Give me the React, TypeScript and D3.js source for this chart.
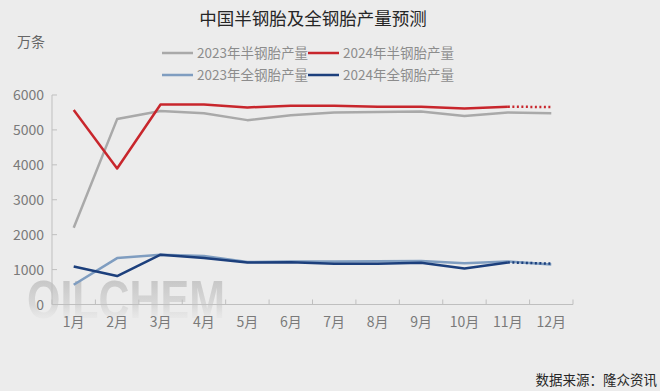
import React from "react";
import * as d3 from "d3";

const months = ["1月", "2月", "3月", "4月", "5月", "6月", "7月", "8月", "9月", "10月", "11月", "12月"];
const yTicks = [0, 1000, 2000, 3000, 4000, 5000, 6000];

const semi2023 = [2200, 5310, 5540, 5475, 5280, 5420, 5500, 5510, 5530, 5400, 5500, 5475];
const semi2024 = [5570, 3895, 5730, 5730, 5645, 5690, 5690, 5665, 5665, 5610, 5665];
const semi2024Forecast = [5665, 5655];
const all2023 = [565, 1330, 1425, 1390, 1215, 1235, 1230, 1240, 1245, 1180, 1235, 1145];
const all2024 = [1090, 815, 1427, 1330, 1200, 1210, 1170, 1170, 1195, 1030, 1205];
const all2024Forecast = [1205, 1170];

const seriesNames = ["2023年半钢胎产量", "2024年半钢胎产量", "2023年全钢胎产量", "2024年全钢胎产量"];
const colors = ["#a9a9a9", "#c8262c", "#7f9dc0", "#1c3f7c"];

const W = 660, H = 391;
const FONT = "'Noto Sans CJK SC', 'Noto Sans', sans-serif";

export default function App() {
  const x = d3.scaleBand<string>().domain(months).range([52, 573]);
  const y = d3.scaleLinear().domain([0, 6000]).range([304.5, 95]);
  const cx = (i: number) => (x(months[i]) as number) + x.bandwidth() / 2;
  const line = d3.line<number>().x((_, i) => cx(i)).y((d) => y(d));
  const lineOff = (off: number) => d3.line<number>().x((_, i) => cx(i + off)).y((d) => y(d));

  const bands = months.map((m) => x(m) as number).concat([573]);

  return (
    <svg width={W} height={H} style={{ position: "absolute", left: 0, top: 0, background: "#ececec" }} fontFamily={FONT}>
      <defs>
        <linearGradient id="wm" x1="0" y1="0" x2="0" y2="1">
          <stop offset="0" stopColor="#b9b9b9" stopOpacity="0.9" />
          <stop offset="0.6" stopColor="#cfcfcf" stopOpacity="0.7" />
          <stop offset="1" stopColor="#ececec" stopOpacity="0" />
        </linearGradient>
      </defs>
      <rect x={0} y={0} width={W} height={H} fill="#ececec" />
      {/* title */}
      <text x={313} y={25} textAnchor="middle" fontSize={17.5} fill="#262626">中国半钢胎及全钢胎产量预测</text>
      {/* unit */}
      <text x={17} y={47} fontSize={14} fill="#666">万条</text>
      {/* legend */}
      {seriesNames.map((n, i) => {
        const lx = i % 2 === 0 ? 162 : 308;
        const ly = i < 2 ? 53 : 75;
        return (
          <g key={n}>
            <line x1={lx} x2={lx + 31} y1={ly} y2={ly} stroke={colors[i]} strokeWidth={2.5} />
            <text x={lx + 35} y={ly + 5} fontSize={13.5} fill="#8c8c8c">{n}</text>
          </g>
        );
      })}
      {/* watermark */}
      <text x={27} y={318} fontSize={54} fontWeight="bold" fontFamily="'Liberation Sans', Arial, sans-serif"
        textLength={198} lengthAdjust="spacingAndGlyphs" fill="url(#wm)">OILCHEM</text>
      {/* axes */}
      <line x1={52} x2={52} y1={y(6000)} y2={y(0)} stroke="#bfbfbf" strokeWidth={1} />
      <line x1={52} x2={573} y1={y(0)} y2={y(0)} stroke="#bfbfbf" strokeWidth={1} />
      {yTicks.map((t) => (
        <g key={t}>
          <line x1={52} x2={57} y1={y(t)} y2={y(t)} stroke="#bfbfbf" />
          <text x={44} y={y(t) + 5} textAnchor="end" fontSize={14} fill="#7a7a7a">{t}</text>
        </g>
      ))}
      {bands.map((b, i) => (
        <line key={i} x1={b} x2={b} y1={y(0)} y2={y(0) - 5} stroke="#bfbfbf" />
      ))}
      {months.map((m, i) => (
        <text key={m} x={cx(i)} y={327} textAnchor="middle" fontSize={14} fill="#7a7a7a">{m}</text>
      ))}
      {/* lines */}
      <path d={line(semi2023) || ""} fill="none" stroke={colors[0]} strokeWidth={2.5} strokeLinejoin="round" />
      <path d={line(all2023) || ""} fill="none" stroke={colors[2]} strokeWidth={2.5} strokeLinejoin="round" />
      <path d={line(semi2024) || ""} fill="none" stroke={colors[1]} strokeWidth={2.5} strokeLinejoin="round" />
      <path d={lineOff(10)(semi2024Forecast) || ""} fill="none" stroke={colors[1]} strokeWidth={2.5} strokeDasharray="2 2.5" />
      <path d={line(all2024) || ""} fill="none" stroke={colors[3]} strokeWidth={2.5} strokeLinejoin="round" />
      <path d={lineOff(10)(all2024Forecast) || ""} fill="none" stroke={colors[3]} strokeWidth={2.5} strokeDasharray="2 2.5" />
      {/* source */}
      <text x={657} y={385} textAnchor="end" fontSize={13.5} fill="#262626">数据来源：隆众资讯</text>
    </svg>
  );
}
